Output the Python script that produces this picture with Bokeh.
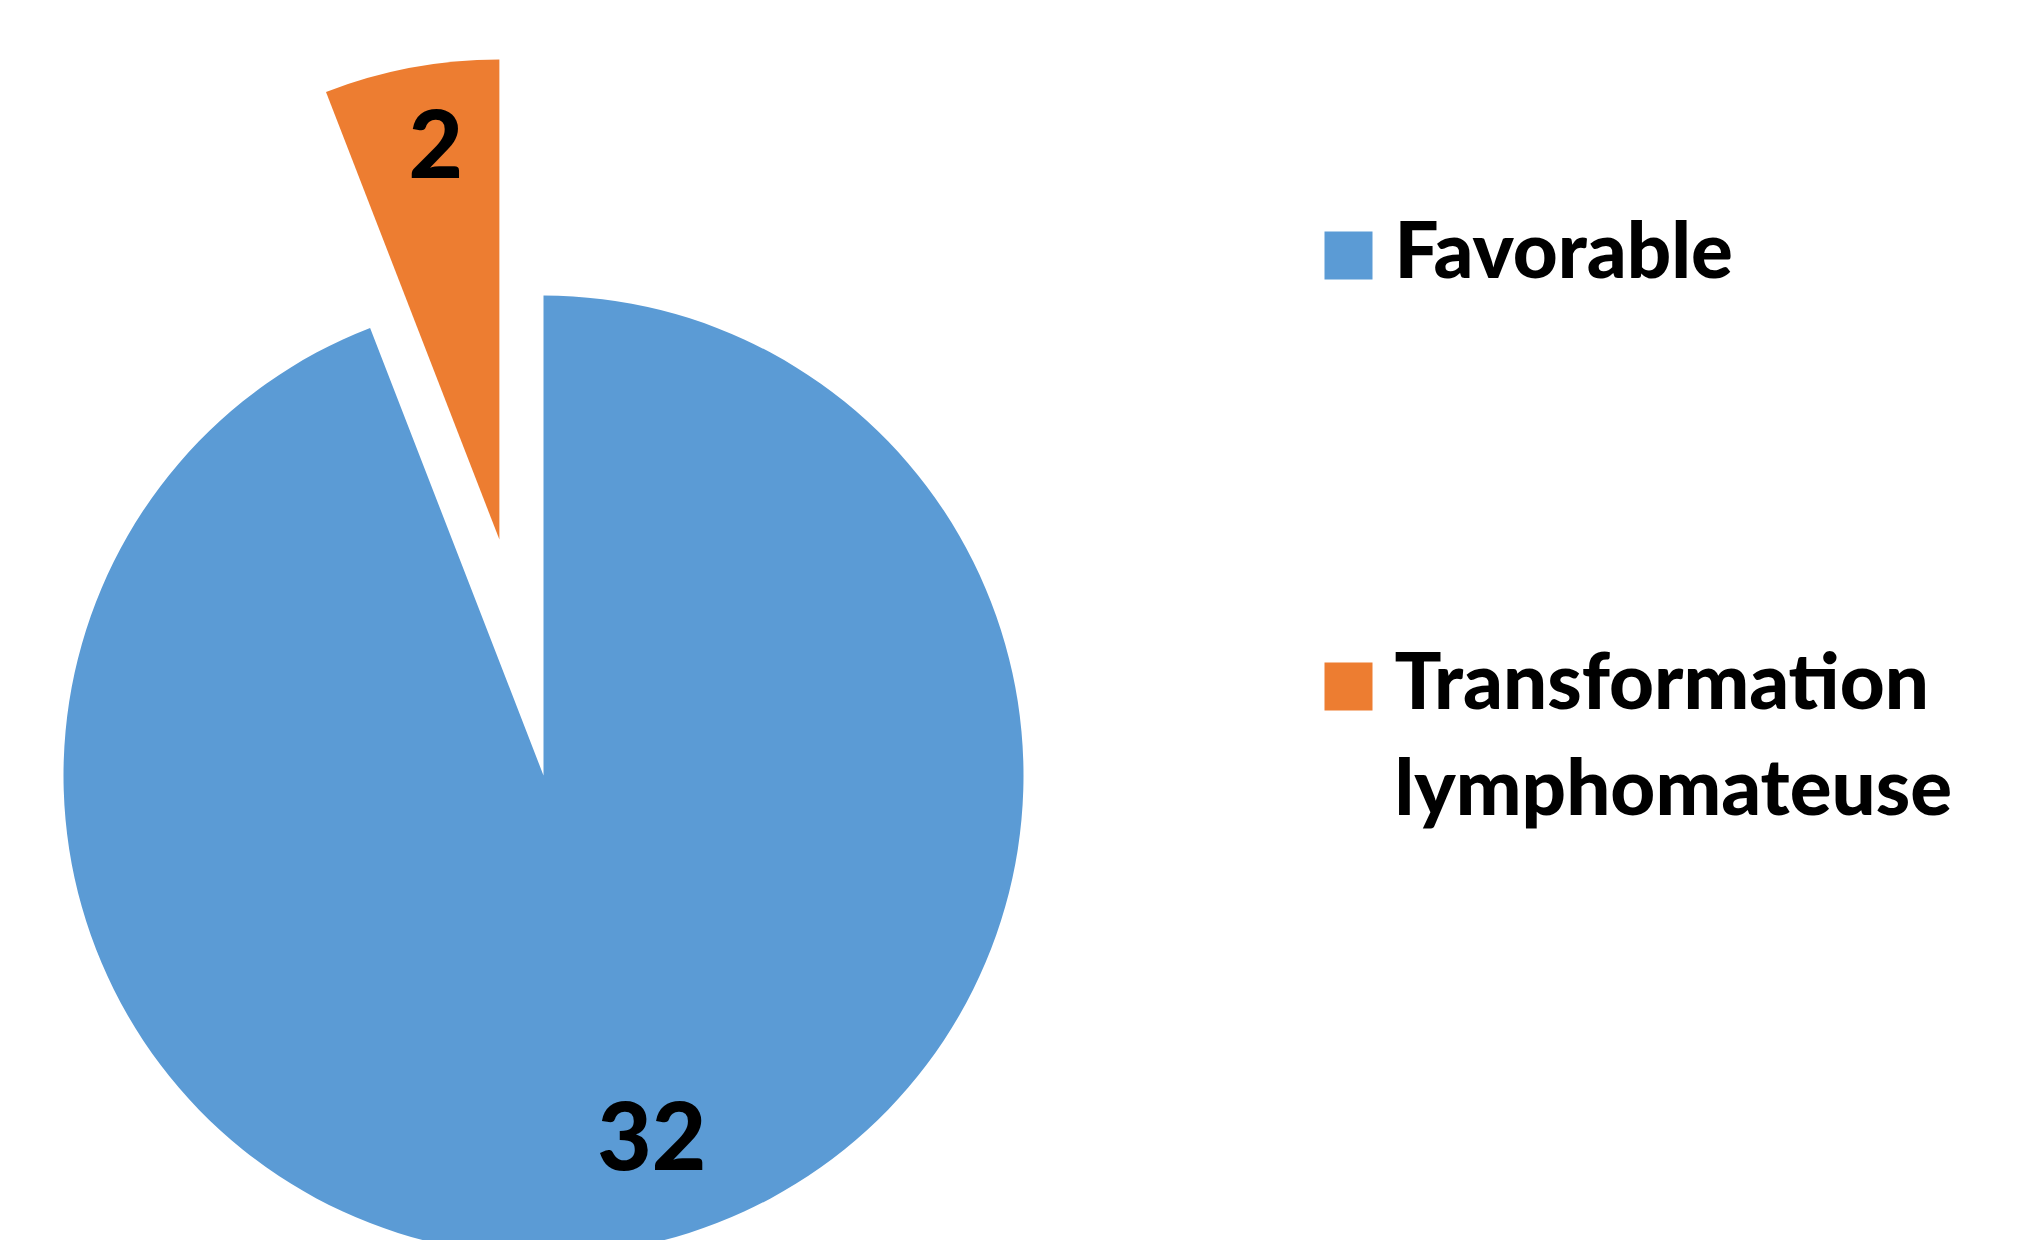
import math
from bokeh.plotting import figure
from bokeh.models import Range1d, ColumnDataSource
from bokeh.core.properties import value
from bokeh.embed import file_html
from bokeh.resources import INLINE

# ---- data ----
categories = ["Favorable", "Transformation lymphomateuse"]
values = [32, 2]
colors = ["#5B9BD5", "#ED7D31"]
legend_lines = [["Favorable"], ["Transformation", "lymphomateuse"]]

# ---- layout / style ----
W, H = 2006, 1240
PAGE_H = 1244
FONT = "Lato Black"
cx, cy, R = 543, PAGE_H - 775, 480
explode = [0.0, 0.5]
label_r = [0.79, 0.83]
label_shift = [6.0, -1.4]       # degrees
label_size = 94
BASE_FIX = 0.40                 # empirical baseline correction (em)
digit_half = 35
leg_sq_x, leg_sq_size = 1348, 48
leg_rows_y = [255, 686]         # screen y of square centres
leg_text_x = 1394
leg_base_off = 24
leg_line_h = 106
leg_size = 78

p = figure(width=W, height=H, x_range=Range1d(0, W),
           y_range=Range1d(PAGE_H - H, PAGE_H),
           output_backend="svg", toolbar_location=None, min_border=0)
p.axis.visible = False
p.grid.visible = False
p.outline_line_color = None
p.background_fill_color = "white"
p.border_fill_color = "white"

total = float(sum(values))
cur = 90.0
wx, wy, sa, ea, lx, ly, ltxt = [], [], [], [], [], [], []
for i, v in enumerate(values):
    sweep = 360.0 * v / total
    end = cur - sweep          # clockwise from 12 o'clock
    mid = math.radians((cur + end) / 2.0)
    ox = cx + explode[i] * R * math.cos(mid)
    oy = cy + explode[i] * R * math.sin(mid)
    wx.append(ox); wy.append(oy)
    sa.append(math.radians(end)); ea.append(math.radians(cur))
    la = mid + math.radians(label_shift[i])
    lx.append(ox + label_r[i] * R * math.cos(la))
    ly.append(oy + label_r[i] * R * math.sin(la) - digit_half + BASE_FIX * label_size)
    ltxt.append(str(v))
    cur = end

src = ColumnDataSource(dict(x=wx, y=wy, sa=sa, ea=ea, color=colors, cat=categories))
p.wedge(x="x", y="y", radius=R, start_angle="sa", end_angle="ea",
        direction="anticlock", fill_color="color", line_color=None, source=src)

p.text(x=lx, y=ly, text=ltxt, text_font=value(FONT), text_font_style="bold",
       text_font_size=f"{label_size}px", text_align="center",
       text_baseline="alphabetic", text_color="black")

# legend
sq_y = [PAGE_H - y for y in leg_rows_y]
p.rect(x=[leg_sq_x] * len(categories), y=sq_y, width=leg_sq_size,
       height=leg_sq_size, fill_color=colors, line_color=None)
tx, ty, tt = [], [], []
for i, lines in enumerate(legend_lines):
    for j, line in enumerate(lines):
        tx.append(leg_text_x)
        ty.append(PAGE_H - (leg_rows_y[i] + leg_base_off + j * leg_line_h) + BASE_FIX * leg_size)
        tt.append(line)
p.text(x=tx, y=ty, text=tt, text_font=value(FONT), text_font_style="bold",
       text_font_size=f"{leg_size}px", text_align="left",
       text_baseline="alphabetic", text_color="black")

open("out.html", "w").write(file_html(p, INLINE))
